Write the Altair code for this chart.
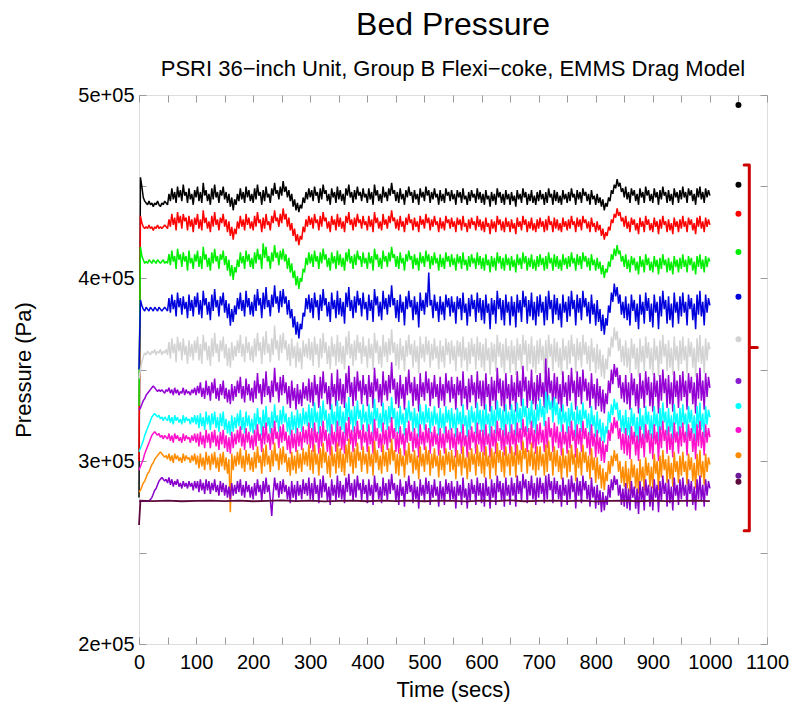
import altair as alt
import pandas as pd

# ---------------- data (pressures in kPa, sampled every 2.5 s from t = 0) ----------------
SAMPLE_STEP_S = 2.5

black_kpa = [
    280, 455, 450, 444, 442, 441, 440, 442, 440, 441, 439, 441, 440, 442, 440, 439, 441, 440, 442, 441,
    440, 446, 442, 449, 443, 447, 441, 450, 444, 448, 442, 451, 445, 447, 441, 449, 443, 446, 440, 448,
    444, 450, 442, 447, 441, 452, 445, 448, 442, 446, 440, 449, 443, 451, 444, 447, 441, 448, 445, 450,
    443, 447, 441, 446, 439, 444, 437, 443, 440, 446, 442, 449, 443, 447, 441, 450, 444, 448, 442, 446,
    441, 449, 443, 451, 445, 447, 440, 448, 442, 450, 444, 446, 441, 449, 445, 452, 446, 448, 443, 450,
    445, 453, 447, 450, 444, 448, 442, 446, 439, 443, 437, 441, 436, 440, 438, 444, 441, 447, 443, 449,
    444, 448, 442, 450, 445, 447, 441, 449, 443, 451, 446, 448, 442, 446, 440, 449, 444, 447, 441, 450,
    443, 448, 442, 446, 440, 449, 445, 451, 444, 447, 441, 448, 443, 450, 445, 447, 442, 449, 444, 446,
    441, 449, 443, 447, 440, 451, 445, 448, 442, 446, 441, 450, 444, 447, 442, 449, 445, 452, 446, 448,
    442, 447, 441, 449, 443, 446, 440, 448, 444, 450, 445, 447, 441, 448, 443, 446, 440, 449, 444, 447,
    442, 450, 445, 448, 441, 447, 443, 449, 444, 446, 440, 448, 442, 446, 441, 449, 445, 447, 442, 448,
    443, 446, 440, 448, 444, 447, 441, 449, 443, 445, 440, 447, 442, 448, 444, 446, 441, 449, 443, 447,
    441, 446, 440, 448, 443, 445, 439, 447, 442, 446, 440, 449, 444, 447, 441, 446, 440, 448, 443, 446,
    440, 447, 442, 445, 439, 448, 443, 446, 441, 449, 444, 447, 440, 446, 442, 448, 441, 445, 440, 447,
    442, 448, 443, 446, 440, 447, 441, 449, 444, 446, 440, 448, 442, 447, 441, 445, 440, 448, 443, 446,
    441, 447, 442, 449, 444, 446, 440, 448, 443, 447, 441, 449, 445, 447, 442, 446, 440, 448, 443, 445,
    440, 446, 441, 444, 439, 443, 437, 441, 439, 444, 442, 448, 446, 451, 449, 454, 450, 452, 447, 449,
    444, 450, 443, 447, 441, 449, 445, 448, 442, 446, 440, 449, 444, 447, 441, 450, 445, 448, 442, 446,
    441, 449, 444, 447, 440, 448, 443, 450, 445, 447, 441, 448, 442, 446, 440, 449, 444, 447, 441, 448,
    443, 450, 444, 447, 441, 449, 445, 448, 442, 446, 440, 449, 444, 450, 443, 447, 441, 449, 444, 448,
    445,
]
red_kpa = [
    300, 434, 430, 428, 427, 428, 427, 429, 427, 428, 426, 428, 427, 429, 427, 428, 427, 428, 429, 428,
    427, 432, 428, 435, 429, 433, 426, 436, 430, 434, 427, 435, 431, 433, 426, 434, 428, 432, 425, 433,
    429, 435, 427, 432, 426, 437, 430, 433, 427, 431, 425, 434, 428, 436, 429, 432, 426, 433, 430, 435,
    428, 432, 425, 431, 423, 428, 421, 427, 424, 431, 427, 434, 428, 432, 426, 435, 429, 433, 427, 431,
    426, 434, 428, 436, 430, 432, 425, 433, 427, 435, 429, 431, 426, 434, 430, 437, 431, 433, 428, 435,
    430, 438, 432, 435, 428, 433, 426, 430, 423, 427, 420, 424, 418, 423, 421, 428, 425, 432, 428, 434,
    429, 433, 427, 435, 430, 432, 426, 434, 428, 436, 431, 433, 427, 431, 425, 434, 429, 432, 426, 435,
    428, 433, 427, 431, 425, 434, 430, 436, 429, 432, 426, 433, 428, 435, 430, 432, 427, 434, 429, 431,
    426, 434, 428, 432, 425, 436, 430, 433, 427, 431, 426, 435, 429, 432, 427, 434, 430, 437, 431, 433,
    427, 432, 426, 434, 428, 431, 425, 433, 429, 435, 430, 432, 426, 433, 428, 431, 425, 434, 429, 432,
    427, 435, 430, 433, 426, 432, 428, 434, 429, 431, 425, 433, 427, 431, 426, 434, 430, 432, 427, 433,
    428, 431, 425, 433, 429, 432, 426, 434, 428, 430, 425, 432, 427, 433, 429, 431, 426, 434, 428, 432,
    426, 431, 425, 433, 428, 430, 424, 432, 427, 431, 425, 434, 429, 432, 426, 431, 425, 433, 428, 431,
    425, 432, 427, 430, 424, 433, 428, 431, 426, 434, 429, 432, 425, 431, 427, 433, 426, 430, 425, 432,
    427, 433, 428, 431, 425, 432, 426, 434, 429, 431, 425, 433, 427, 432, 426, 430, 425, 433, 428, 431,
    426, 432, 427, 434, 429, 431, 425, 433, 428, 432, 426, 434, 430, 432, 427, 431, 425, 433, 428, 430,
    425, 431, 426, 429, 423, 427, 421, 425, 423, 428, 426, 432, 430, 435, 433, 438, 434, 436, 431, 433,
    428, 434, 427, 431, 425, 433, 429, 432, 426, 430, 424, 433, 428, 431, 425, 434, 429, 432, 426, 430,
    425, 433, 428, 431, 424, 432, 427, 434, 429, 431, 425, 432, 426, 430, 424, 433, 428, 431, 425, 432,
    427, 434, 428, 431, 425, 433, 429, 432, 426, 430, 424, 433, 428, 434, 427, 431, 425, 433, 428, 432,
    429,
]
green_kpa = [
    330, 417, 412, 410, 408, 409, 408, 410, 409, 408, 410, 409, 408, 410, 409, 408, 409, 410, 408, 409,
    408, 413, 407, 415, 409, 412, 405, 416, 410, 413, 406, 414, 409, 412, 404, 415, 408, 411, 405, 413,
    409, 415, 406, 412, 405, 417, 410, 413, 406, 411, 404, 414, 408, 416, 409, 412, 405, 413, 410, 415,
    407, 412, 404, 410, 401, 407, 399, 406, 403, 410, 406, 414, 408, 412, 405, 415, 409, 413, 406, 411,
    405, 414, 408, 416, 410, 413, 405, 419, 411, 417, 409, 412, 405, 414, 409, 418, 411, 414, 407, 415,
    410, 416, 409, 413, 405, 411, 403, 408, 400, 404, 396, 401, 394, 400, 398, 405, 403, 411, 407, 414,
    408, 413, 406, 415, 409, 412, 405, 414, 408, 416, 410, 413, 406, 411, 404, 414, 408, 412, 405, 415,
    407, 413, 406, 411, 404, 414, 409, 416, 408, 412, 405, 413, 407, 415, 410, 412, 406, 414, 408, 411,
    405, 414, 408, 412, 404, 416, 410, 413, 406, 411, 405, 415, 409, 412, 406, 414, 409, 417, 411, 413,
    406, 412, 405, 414, 408, 411, 404, 413, 409, 415, 410, 412, 405, 413, 407, 411, 404, 414, 408, 412,
    406, 415, 409, 413, 405, 412, 407, 414, 408, 411, 404, 413, 406, 411, 405, 414, 409, 412, 406, 413,
    407, 411, 404, 413, 408, 412, 405, 414, 407, 410, 404, 412, 406, 413, 408, 411, 405, 414, 407, 412,
    405, 411, 404, 413, 407, 410, 403, 412, 406, 411, 404, 414, 408, 412, 405, 411, 404, 413, 407, 411,
    404, 412, 406, 410, 403, 413, 407, 411, 405, 414, 408, 412, 404, 411, 406, 413, 405, 410, 404, 412,
    406, 413, 407, 411, 404, 412, 405, 414, 408, 411, 404, 413, 406, 412, 405, 410, 404, 413, 407, 411,
    405, 412, 406, 414, 408, 411, 404, 413, 407, 412, 405, 414, 409, 412, 406, 411, 404, 413, 407, 410,
    404, 411, 405, 409, 402, 407, 400, 405, 403, 409, 406, 413, 410, 416, 412, 418, 413, 415, 409, 412,
    406, 413, 405, 410, 403, 412, 407, 411, 404, 409, 402, 412, 406, 410, 403, 413, 407, 411, 404, 409,
    403, 412, 406, 410, 402, 411, 405, 413, 407, 410, 403, 411, 404, 409, 402, 412, 406, 410, 403, 411,
    405, 413, 406, 410, 403, 412, 407, 411, 404, 409, 402, 412, 406, 413, 405, 410, 403, 412, 406, 411,
    409,
]
blue_kpa = [
    350, 388, 385, 383, 382, 384, 383, 382, 384, 383, 382, 384, 383, 382, 384, 383, 382, 383, 384, 383,
    382, 389, 381, 391, 383, 388, 379, 392, 384, 389, 380, 390, 383, 387, 378, 391, 382, 388, 379, 390,
    384, 392, 380, 388, 378, 393, 385, 389, 380, 387, 377, 391, 382, 394, 384, 388, 379, 390, 385, 392,
    381, 388, 378, 386, 374, 383, 376, 385, 380, 389, 383, 392, 382, 388, 379, 393, 384, 389, 380, 387,
    379, 391, 382, 394, 385, 389, 378, 392, 383, 395, 384, 388, 379, 391, 384, 396, 386, 390, 381, 393,
    384, 394, 386, 390, 380, 388, 378, 383, 373, 379, 369, 376, 367, 375, 372, 381, 379, 389, 383, 391,
    381, 389, 378, 392, 384, 388, 377, 391, 382, 394, 385, 389, 379, 387, 376, 392, 383, 388, 378, 393,
    380, 389, 379, 387, 375, 392, 384, 395, 382, 388, 378, 390, 381, 393, 385, 389, 379, 392, 383, 387,
    377, 391, 382, 388, 376, 394, 385, 390, 379, 387, 377, 393, 383, 389, 380, 391, 384, 396, 385, 389,
    378, 388, 376, 391, 381, 387, 374, 390, 383, 393, 384, 388, 377, 390, 380, 387, 373, 392, 382, 388,
    380, 392, 384, 403, 385, 388, 378, 391, 382, 387, 376, 390, 380, 387, 377, 391, 384, 389, 379, 390,
    381, 387, 375, 390, 383, 389, 377, 392, 381, 386, 374, 389, 379, 391, 383, 388, 376, 392, 381, 389,
    377, 388, 375, 391, 381, 386, 372, 389, 380, 388, 375, 393, 383, 389, 377, 388, 374, 391, 381, 387,
    374, 390, 379, 387, 373, 391, 381, 388, 376, 393, 384, 390, 375, 388, 379, 392, 377, 387, 374, 390,
    379, 391, 381, 387, 374, 390, 377, 393, 383, 388, 375, 391, 380, 389, 377, 386, 373, 391, 381, 387,
    376, 390, 379, 393, 383, 388, 374, 391, 381, 389, 377, 393, 384, 389, 379, 387, 375, 391, 380, 386,
    374, 388, 376, 383, 371, 380, 369, 378, 374, 385, 381, 392, 387, 397, 390, 395, 386, 391, 380, 387,
    378, 390, 377, 386, 374, 391, 382, 388, 376, 386, 372, 391, 380, 387, 375, 392, 382, 389, 376, 386,
    373, 391, 381, 387, 372, 390, 379, 393, 383, 388, 375, 390, 377, 386, 373, 392, 381, 387, 375, 390,
    379, 392, 381, 387, 374, 391, 383, 389, 377, 386, 372, 391, 380, 393, 379, 387, 374, 391, 381, 389,
    385,
]
gray_kpa = [
    345, 350, 354, 357, 359, 358, 360, 359, 358, 360, 359, 361, 358, 360, 359, 361, 358, 360, 359, 361,
    358, 365, 356, 367, 359, 364, 354, 368, 360, 365, 355, 367, 358, 363, 353, 366, 357, 364, 355, 366,
    359, 368, 355, 364, 353, 369, 360, 365, 355, 363, 352, 367, 357, 370, 359, 364, 354, 366, 360, 368,
    356, 364, 352, 362, 351, 365, 355, 363, 357, 366, 359, 369, 357, 364, 354, 368, 359, 365, 355, 363,
    354, 367, 357, 370, 360, 365, 353, 368, 358, 371, 359, 364, 354, 367, 358, 374, 361, 366, 355, 369,
    359, 370, 361, 366, 355, 364, 352, 367, 356, 363, 351, 365, 354, 362, 350, 366, 357, 364, 356, 367,
    355, 365, 352, 368, 358, 364, 351, 367, 356, 370, 359, 365, 353, 363, 350, 368, 357, 364, 352, 369,
    354, 365, 353, 363, 350, 368, 358, 371, 356, 364, 352, 366, 355, 369, 359, 365, 353, 368, 357, 363,
    351, 367, 356, 364, 350, 370, 359, 366, 353, 363, 351, 369, 357, 365, 354, 367, 358, 372, 359, 365,
    352, 364, 350, 367, 355, 363, 349, 366, 357, 369, 358, 364, 351, 366, 354, 363, 348, 368, 356, 364,
    354, 368, 358, 366, 351, 364, 355, 367, 356, 363, 350, 366, 354, 363, 351, 367, 358, 365, 353, 366,
    355, 363, 349, 366, 357, 365, 351, 368, 355, 362, 349, 365, 353, 367, 357, 364, 350, 368, 355, 365,
    351, 364, 349, 367, 355, 362, 347, 365, 354, 364, 349, 369, 357, 365, 351, 364, 348, 367, 355, 363,
    348, 366, 353, 363, 347, 367, 355, 364, 350, 369, 358, 366, 349, 364, 353, 368, 351, 363, 348, 366,
    353, 367, 355, 363, 348, 366, 351, 369, 357, 364, 349, 367, 354, 365, 351, 362, 347, 367, 355, 363,
    350, 366, 353, 369, 357, 364, 348, 367, 355, 365, 351, 369, 358, 365, 353, 363, 349, 367, 354, 362,
    348, 364, 350, 361, 346, 358, 345, 356, 350, 362, 357, 368, 362, 373, 366, 371, 360, 367, 354, 363,
    352, 366, 351, 362, 348, 367, 356, 364, 350, 362, 346, 367, 354, 363, 349, 368, 356, 365, 350, 362,
    347, 367, 355, 363, 346, 366, 353, 369, 357, 364, 349, 366, 351, 362, 347, 368, 355, 363, 349, 366,
    353, 368, 355, 363, 348, 367, 357, 365, 351, 362, 346, 367, 354, 369, 353, 363, 348, 367, 355, 365,
    361,
]
violet_kpa = [
    328, 329, 331, 333, 334, 336, 337, 338, 339, 340, 341, 340, 339, 338, 339, 338, 339, 338, 337, 339,
    338, 340, 337, 339, 336, 340, 337, 339, 336, 338, 337, 340, 336, 339, 337, 338, 336, 339, 337, 340,
    336, 341, 337, 343, 335, 340, 334, 344, 336, 341, 333, 343, 337, 345, 334, 340, 333, 342, 336, 344,
    334, 340, 332, 339, 331, 342, 333, 341, 335, 344, 337, 346, 334, 341, 332, 345, 336, 342, 333, 340,
    332, 344, 334, 348, 337, 342, 331, 345, 335, 349, 336, 341, 332, 344, 335, 351, 338, 343, 332, 346,
    336, 347, 337, 343, 331, 341, 329, 344, 333, 340, 328, 342, 331, 339, 330, 343, 334, 341, 333, 345,
    332, 343, 330, 347, 336, 342, 329, 346, 334, 349, 337, 343, 331, 341, 328, 348, 335, 342, 330, 350,
    333, 345, 331, 342, 329, 348, 337, 352, 335, 343, 330, 346, 333, 349, 338, 344, 331, 347, 336, 342,
    330, 347, 335, 343, 329, 351, 338, 345, 332, 342, 330, 349, 336, 344, 333, 347, 337, 354, 339, 345,
    331, 343, 329, 347, 334, 342, 328, 346, 336, 350, 337, 343, 330, 346, 333, 342, 327, 348, 335, 343,
    333, 349, 337, 345, 330, 343, 334, 347, 335, 342, 329, 346, 333, 342, 330, 348, 337, 344, 332, 346,
    334, 342, 328, 346, 336, 344, 330, 349, 334, 341, 328, 345, 332, 347, 336, 343, 329, 349, 334, 344,
    330, 344, 328, 348, 335, 342, 327, 346, 333, 344, 328, 351, 337, 345, 330, 344, 327, 348, 334, 342,
    328, 347, 333, 343, 327, 349, 335, 344, 330, 352, 338, 346, 329, 344, 333, 350, 331, 343, 328, 347,
    333, 348, 335, 343, 329, 356, 331, 351, 337, 344, 329, 348, 334, 346, 331, 342, 327, 349, 335, 343,
    330, 347, 333, 351, 337, 344, 328, 349, 335, 346, 331, 350, 338, 345, 333, 343, 329, 348, 334, 342,
    328, 345, 330, 341, 327, 339, 326, 337, 331, 344, 337, 350, 342, 353, 346, 351, 340, 347, 334, 343,
    332, 347, 331, 343, 328, 348, 336, 345, 330, 342, 326, 348, 334, 344, 329, 349, 336, 346, 330, 343,
    327, 348, 335, 344, 326, 347, 333, 350, 337, 345, 329, 347, 331, 343, 327, 349, 335, 344, 329, 347,
    333, 349, 335, 344, 328, 348, 337, 346, 331, 343, 326, 348, 334, 351, 333, 344, 328, 348, 335, 346,
    340,
]
cyan_kpa = [
    305, 307, 309, 311, 314, 316, 318, 320, 322, 324, 325, 326, 325, 324, 325, 323, 324, 322, 324, 323,
    322, 325, 321, 324, 320, 325, 322, 324, 321, 323, 320, 325, 321, 324, 322, 323, 320, 324, 321, 325,
    320, 325, 318, 326, 319, 324, 317, 327, 320, 325, 317, 326, 320, 327, 318, 324, 316, 326, 319, 327,
    317, 323, 315, 322, 314, 325, 316, 324, 318, 326, 319, 328, 317, 324, 315, 327, 319, 325, 316, 323,
    315, 326, 317, 329, 320, 324, 314, 328, 318, 330, 319, 324, 315, 327, 318, 331, 321, 325, 316, 328,
    320, 330, 321, 326, 316, 324, 314, 327, 317, 325, 315, 328, 318, 326, 316, 329, 320, 327, 319, 331,
    318, 329, 316, 332, 321, 327, 315, 330, 319, 333, 322, 328, 316, 326, 314, 331, 320, 327, 316, 333,
    319, 330, 317, 327, 315, 332, 322, 335, 320, 328, 316, 330, 319, 333, 323, 328, 317, 331, 321, 327,
    316, 331, 320, 327, 315, 334, 322, 329, 318, 326, 316, 332, 320, 328, 317, 330, 321, 335, 323, 329,
    316, 327, 315, 330, 320, 326, 314, 329, 321, 333, 322, 327, 316, 329, 318, 326, 313, 331, 320, 327,
    317, 331, 321, 329, 315, 327, 319, 330, 320, 326, 314, 329, 318, 326, 315, 330, 321, 328, 317, 329,
    318, 326, 313, 329, 320, 327, 315, 331, 319, 325, 313, 328, 317, 330, 321, 327, 315, 332, 320, 328,
    316, 328, 314, 331, 320, 326, 313, 330, 319, 328, 315, 333, 322, 329, 317, 328, 314, 331, 320, 327,
    315, 331, 320, 328, 314, 332, 321, 329, 317, 334, 324, 330, 316, 329, 320, 333, 318, 328, 315, 331,
    322, 334, 324, 330, 319, 338, 326, 336, 328, 333, 321, 335, 325, 332, 320, 329, 316, 331, 321, 327,
    315, 329, 318, 332, 322, 327, 313, 330, 320, 328, 316, 332, 323, 328, 318, 326, 314, 330, 319, 325,
    313, 327, 315, 323, 311, 321, 310, 319, 315, 327, 321, 331, 325, 334, 328, 332, 322, 328, 316, 325,
    315, 328, 314, 324, 312, 329, 319, 326, 313, 324, 310, 329, 317, 325, 312, 330, 320, 327, 314, 325,
    312, 330, 319, 326, 311, 329, 317, 332, 321, 327, 314, 329, 316, 325, 312, 331, 320, 326, 314, 329,
    318, 331, 320, 326, 313, 330, 321, 328, 315, 325, 311, 330, 318, 332, 317, 326, 313, 330, 320, 328,
    324,
]
magenta_kpa = [
    295, 297, 299, 301, 304, 306, 308, 310, 312, 314, 315, 316, 315, 314, 315, 313, 314, 312, 314, 313,
    312, 315, 311, 314, 310, 315, 312, 314, 311, 313, 310, 315, 311, 314, 312, 313, 310, 314, 311, 315,
    310, 315, 308, 316, 309, 314, 307, 317, 310, 315, 307, 316, 310, 317, 308, 314, 306, 316, 309, 317,
    307, 314, 305, 313, 304, 316, 307, 315, 309, 317, 310, 319, 308, 315, 306, 318, 310, 316, 307, 314,
    306, 317, 308, 320, 311, 315, 305, 319, 309, 321, 310, 315, 306, 318, 309, 322, 312, 316, 307, 319,
    310, 320, 311, 316, 306, 314, 304, 317, 307, 315, 305, 318, 308, 316, 306, 319, 310, 317, 309, 321,
    307, 318, 305, 321, 310, 316, 304, 319, 308, 322, 311, 317, 305, 315, 303, 320, 309, 316, 305, 322,
    308, 319, 306, 316, 304, 321, 311, 324, 309, 317, 305, 319, 308, 322, 312, 317, 306, 320, 310, 316,
    305, 320, 309, 316, 304, 323, 311, 318, 307, 315, 305, 321, 309, 317, 306, 319, 310, 324, 312, 318,
    305, 316, 304, 319, 309, 315, 303, 318, 310, 322, 311, 316, 305, 318, 307, 315, 302, 320, 309, 316,
    306, 320, 310, 318, 304, 316, 308, 319, 309, 315, 303, 318, 307, 315, 304, 319, 310, 317, 306, 318,
    307, 315, 302, 318, 309, 316, 304, 320, 308, 314, 302, 317, 306, 319, 310, 316, 304, 321, 309, 317,
    305, 317, 303, 320, 309, 315, 302, 319, 308, 317, 304, 322, 311, 318, 306, 317, 303, 320, 309, 316,
    304, 320, 309, 317, 303, 321, 310, 318, 306, 323, 313, 319, 305, 318, 309, 322, 307, 317, 304, 320,
    309, 321, 310, 317, 305, 322, 307, 324, 313, 318, 305, 321, 310, 319, 307, 316, 303, 320, 309, 316,
    304, 319, 307, 322, 311, 317, 302, 320, 309, 318, 305, 322, 312, 318, 307, 316, 303, 320, 308, 315,
    302, 317, 304, 313, 300, 311, 299, 309, 305, 317, 311, 321, 315, 324, 318, 322, 312, 318, 306, 315,
    304, 318, 303, 314, 301, 319, 309, 316, 303, 314, 300, 319, 307, 315, 302, 320, 310, 317, 304, 315,
    301, 320, 309, 316, 300, 319, 307, 322, 311, 317, 304, 319, 306, 315, 302, 321, 310, 316, 304, 319,
    308, 321, 310, 316, 303, 320, 311, 318, 305, 315, 301, 320, 308, 322, 307, 316, 303, 320, 310, 318,
    313,
]
orange_kpa = [
    283, 284, 286, 288, 289, 291, 293, 294, 296, 298, 299, 301, 302, 303, 304, 305, 304, 303, 302, 303,
    301, 304, 300, 303, 299, 304, 301, 303, 300, 302, 299, 304, 300, 303, 301, 302, 299, 303, 300, 304,
    298, 303, 296, 304, 297, 302, 295, 305, 298, 303, 295, 304, 298, 305, 296, 302, 294, 304, 297, 305,
    295, 302, 293, 301, 272, 304, 295, 303, 297, 305, 298, 307, 296, 303, 294, 306, 298, 304, 295, 302,
    294, 305, 296, 308, 299, 303, 293, 307, 297, 309, 298, 303, 294, 306, 297, 310, 300, 304, 295, 307,
    298, 308, 299, 304, 294, 302, 292, 305, 295, 303, 293, 306, 296, 304, 294, 307, 298, 305, 297, 309,
    295, 306, 293, 309, 298, 304, 292, 307, 296, 310, 299, 305, 293, 303, 291, 308, 297, 304, 293, 310,
    296, 307, 294, 304, 292, 309, 299, 312, 297, 305, 293, 307, 296, 310, 300, 305, 294, 308, 298, 304,
    293, 308, 297, 304, 292, 311, 299, 306, 295, 303, 293, 309, 297, 305, 294, 307, 298, 312, 300, 306,
    293, 304, 292, 307, 297, 303, 291, 306, 298, 310, 299, 304, 293, 306, 295, 303, 290, 308, 297, 304,
    294, 308, 298, 306, 292, 304, 296, 307, 297, 303, 291, 306, 295, 303, 292, 307, 298, 305, 294, 306,
    295, 303, 290, 306, 297, 304, 292, 308, 296, 302, 290, 305, 294, 307, 298, 304, 292, 309, 297, 305,
    293, 305, 291, 308, 297, 303, 290, 307, 296, 305, 292, 310, 299, 306, 294, 305, 291, 308, 297, 304,
    292, 308, 297, 305, 291, 309, 298, 306, 294, 311, 301, 307, 293, 306, 297, 310, 295, 305, 292, 308,
    295, 308, 297, 304, 292, 309, 294, 311, 300, 305, 292, 308, 297, 306, 294, 303, 290, 307, 296, 303,
    291, 306, 294, 309, 298, 304, 289, 307, 296, 305, 292, 309, 299, 305, 294, 303, 290, 307, 295, 302,
    288, 302, 290, 298, 285, 296, 284, 294, 289, 300, 293, 303, 297, 306, 300, 304, 294, 300, 288, 297,
    286, 300, 285, 296, 283, 301, 291, 298, 285, 296, 282, 301, 289, 297, 284, 302, 292, 299, 286, 297,
    285, 304, 293, 300, 284, 303, 291, 306, 295, 301, 288, 303, 290, 299, 286, 305, 294, 300, 288, 303,
    292, 305, 294, 300, 287, 304, 295, 302, 289, 299, 285, 304, 292, 306, 291, 300, 287, 304, 294, 302,
    298,
]
purple_kpa = [
    278, 278, 278, 278, 278, 278, 278, 278, 279, 280, 282, 284, 285, 287, 289, 290, 291, 290, 289, 290,
    288, 291, 287, 290, 286, 289, 287, 290, 286, 288, 285, 289, 286, 288, 285, 289, 286, 288, 284, 289,
    285, 289, 283, 290, 284, 288, 282, 290, 284, 289, 282, 288, 284, 290, 283, 287, 281, 289, 283, 288,
    281, 287, 280, 286, 279, 288, 281, 287, 282, 289, 283, 290, 281, 287, 280, 289, 283, 287, 280, 286,
    279, 288, 281, 290, 283, 287, 278, 289, 282, 291, 283, 287, 279, 270, 282, 291, 284, 288, 280, 289,
    282, 290, 283, 287, 279, 286, 277, 289, 280, 287, 278, 289, 281, 287, 279, 290, 282, 288, 281, 291,
    279, 288, 278, 291, 282, 287, 277, 290, 280, 292, 283, 288, 278, 286, 276, 290, 281, 287, 278, 292,
    280, 289, 279, 287, 277, 291, 283, 293, 281, 288, 278, 290, 280, 292, 284, 288, 278, 290, 282, 287,
    277, 290, 281, 287, 276, 292, 283, 288, 279, 286, 277, 291, 281, 288, 278, 290, 282, 293, 284, 288,
    278, 287, 276, 290, 281, 286, 275, 289, 282, 292, 283, 287, 277, 289, 279, 286, 274, 290, 281, 287,
    278, 291, 282, 289, 276, 287, 280, 290, 281, 286, 275, 289, 279, 286, 276, 290, 282, 288, 278, 289,
    279, 286, 274, 289, 281, 287, 276, 291, 280, 285, 274, 288, 278, 290, 282, 287, 276, 291, 281, 288,
    277, 288, 275, 291, 281, 286, 274, 290, 280, 288, 276, 292, 283, 289, 278, 288, 275, 291, 281, 287,
    276, 291, 281, 288, 275, 292, 282, 289, 278, 293, 285, 290, 277, 289, 281, 292, 279, 288, 276, 291,
    280, 291, 282, 288, 277, 292, 279, 293, 284, 289, 277, 291, 282, 289, 279, 287, 275, 291, 281, 287,
    276, 290, 279, 292, 283, 288, 274, 291, 281, 289, 277, 292, 284, 289, 279, 287, 275, 291, 280, 286,
    274, 287, 276, 284, 272, 283, 273, 281, 276, 287, 280, 290, 284, 292, 287, 290, 281, 287, 276, 285,
    275, 288, 274, 285, 273, 289, 280, 286, 274, 285, 271, 289, 278, 286, 273, 290, 281, 287, 275, 286,
    273, 290, 280, 287, 272, 289, 278, 292, 282, 288, 275, 290, 277, 286, 273, 291, 281, 287, 276, 290,
    279, 291, 281, 287, 275, 290, 282, 289, 276, 286, 273, 290, 279, 292, 278, 287, 275, 290, 281, 289,
    285,
]
# the lowest trace is almost flat: sampled coarsely (its own time stamps)
maroon_time = [0, 2.5, 25, 50, 75, 100, 125, 150, 175, 200, 225, 250, 275, 300, 325, 350, 375, 400,
               425, 450, 475, 500, 525, 550, 575, 600, 625, 650, 675, 700, 725, 750, 775, 800, 825,
               850, 875, 900, 925, 950, 975, 1000]
maroon_kpa = [265, 278.3, 278.1, 278.4, 278.0, 278.2, 278.4, 278.1, 278.3, 278.0, 278.2, 278.5, 278.1,
              278.3, 277.9, 278.2, 278.4, 278.0, 278.3, 278.1, 278.3, 278.0, 278.4, 278.2, 277.9,
              278.3, 278.1, 278.5, 278.0, 278.2, 278.4, 278.1, 278.3, 277.9, 278.2, 278.4, 278.0,
              278.3, 278.1, 278.2, 278.4, 278.1]

series_values = [black_kpa, red_kpa, green_kpa, blue_kpa, gray_kpa, violet_kpa,
                 cyan_kpa, magenta_kpa, orange_kpa, purple_kpa]
line_colors = ["#000000", "#ff0000", "#00ee00", "#0000dd", "#d3d3d3", "#9400d3",
               "#00ffff", "#ff11cc", "#ff8c00", "#8800cc"]
maroon_color = "#5c0a3c"

# end-of-run markers at t = 1050 s
dot_time = [1050] * 12
dot_kpa = [494.5, 451, 435.1, 414.2, 389.8, 366.5, 343.7, 330, 317, 303.1, 292, 288.7]
dot_colors = ["#000000", "#000000", "#ff0000", "#00ee00", "#0000dd", "#d3d3d3",
              "#8a1ad0", "#00ffff", "#ff11cc", "#ff8c00", "#6a1b9a", "#5c0a3c"]

# red bracket (data coordinates)
bracket_time = [1060, 1069, 1069, 1083, 1069, 1069, 1060]
bracket_kpa = [461.7, 461.7, 362, 362, 362, 261.9, 261.9]

x_tick_values = list(range(0, 1101, 50))
y_tick_values = list(range(200000, 500001, 50000))

# ---------------- chart ----------------
FONT = "Liberation Sans"
FRAME = "#9a9a9a"
LINE_W = 1.5

x_scale = alt.Scale(domain=[0, 1100], nice=False, zero=False)
y_scale = alt.Scale(domain=[200000, 500000], nice=False, zero=False)

x_axis_bottom = alt.Axis(
    orient="bottom", values=x_tick_values, format="d",
    labelExpr="datum.value % 100 == 0 ? datum.label : ''",
    tickSize=7, offset=-7, domain=False, grid=False, tickColor=FRAME,
    labelFlush=False, labelOverlap=False, labelPadding=8, labelFontSize=20,
    labelFont=FONT, labelColor="#000000",
    title="Time (secs)", titleFont=FONT, titleFontSize=22, titleFontWeight="normal",
    titleColor="#000000", titlePadding=7,
)
y_axis_left = alt.Axis(
    orient="left", values=y_tick_values,
    labelExpr="datum.value % 100000 == 0 ? (datum.value / 100000) + 'e+05' : ''",
    tickSize=7, offset=-7, domain=False, grid=False, tickColor=FRAME,
    labelFlush=False, labelOverlap=False, labelPadding=5, labelFontSize=20,
    labelFont=FONT, labelColor="#000000",
    title="Pressure (Pa)", titleFont=FONT, titleFontSize=22, titleFontWeight="normal",
    titleColor="#000000", titlePadding=42,
)
x_axis_top = alt.Axis(orient="top", values=x_tick_values, labels=False, title=None,
                      tickSize=7, offset=-7, domain=False, grid=False, tickColor=FRAME)
y_axis_right = alt.Axis(orient="right", values=y_tick_values, labels=False, title=None,
                        tickSize=7, offset=-7, domain=False, grid=False, tickColor=FRAME)

layers = []
for i, (vals, color) in enumerate(zip(series_values, line_colors)):
    df = pd.DataFrame({"t": [k * SAMPLE_STEP_S for k in range(len(vals))],
                       "p": [v * 1000 for v in vals]})
    layers.append(
        alt.Chart(df).mark_line(color=color, strokeWidth=LINE_W, strokeJoin="bevel").encode(
            x=alt.X("t:Q", scale=x_scale, axis=x_axis_bottom if i == 0 else None),
            y=alt.Y("p:Q", scale=y_scale, axis=y_axis_left if i == 0 else None),
        )
    )

maroon_df = pd.DataFrame({"t": maroon_time, "p": [v * 1000 for v in maroon_kpa]})
layers.append(
    alt.Chart(maroon_df).mark_line(color=maroon_color, strokeWidth=1.8).encode(
        x=alt.X("t:Q", scale=x_scale, axis=None),
        y=alt.Y("p:Q", scale=y_scale, axis=None),
    )
)

dots_df = pd.DataFrame({"t": dot_time, "p": [v * 1000 for v in dot_kpa], "c": dot_colors})
dots = alt.Chart(dots_df).mark_circle(size=36, opacity=1).encode(
    x=alt.X("t:Q", scale=x_scale, axis=x_axis_top),
    y=alt.Y("p:Q", scale=y_scale, axis=y_axis_right),
    color=alt.Color("c:N", scale=None, legend=None),
)

bracket_df = pd.DataFrame({"t": bracket_time, "p": [v * 1000 for v in bracket_kpa],
                           "o": list(range(len(bracket_time)))})
bracket = alt.Chart(bracket_df).mark_line(color="#cc0000", strokeWidth=3,
                                          strokeJoin="round", strokeCap="round").encode(
    x=alt.X("t:Q", scale=x_scale, axis=None),
    y=alt.Y("p:Q", scale=y_scale, axis=None),
    order=alt.Order("o:Q"),
)

chart = alt.layer(*layers, bracket, dots).resolve_axis(
    x="independent", y="independent"
).properties(
    width=628,
    height=549,
    autosize=alt.AutoSizeParams(type="none"),
    padding={"left": 139, "top": 95, "right": 29, "bottom": 62},
    title=alt.Title(
        text="Bed Pressure",
        subtitle="PSRI 36\u2212inch Unit, Group B Flexi\u2212coke, EMMS Drag Model",
        font=FONT, subtitleFont=FONT, fontSize=32, subtitleFontSize=22,
        fontWeight="normal", color="#000000", subtitleColor="#000000",
        anchor="middle", offset=4, subtitlePadding=17,
    ),
).configure_view(stroke=FRAME, strokeWidth=1).configure(background="#ffffff")

chart.save("out.html", embed_options={"renderer": "svg", "actions": False})
